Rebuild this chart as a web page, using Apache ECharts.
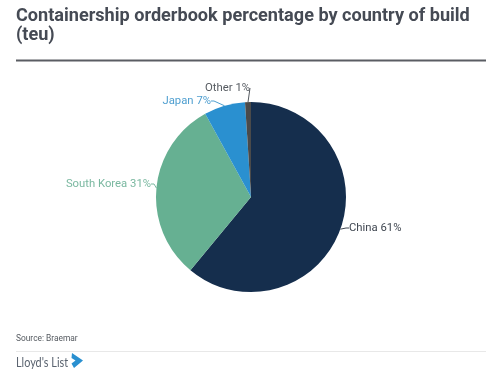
<!DOCTYPE html>
<html><head><meta charset="utf-8">
<style>html,body{margin:0;padding:0;background:#fff}#c{width:500px;height:381px}</style>
<script src="https://cdn.jsdelivr.net/npm/echarts@6/dist/echarts.min.js"></script>
</head><body><div id="c"></div>
<script>
const categories = ['China', 'South Korea', 'Japan', 'Other'];
const values = [61, 31, 7, 1];
const colors = ['#152e4d', '#66b092', '#2a90d0', '#4a4a4a'];
const labelColors = ['#3f4650', '#7ab8a0', '#4f9fd0', '#555a60'];
const titleLines = 'Containership orderbook percentage by country of build\n(teu)';
const sourceText = 'Source: Braemar';
const brandText = "Lloyd's List";

const labelAnchors = {
  'China': {x: 349, y: 228, align: 'left'},
  'South Korea': {x: 151, y: 184, align: 'right'},
  'Japan': {x: 211, y: 101, align: 'right'},
  'Other': {x: 250, y: 88, align: 'right'}
};

const chart = echarts.init(document.getElementById('c'), null, {renderer: 'canvas'});
chart.setOption({
  animation: false,
  backgroundColor: '#fff',
  title: {
    text: titleLines, left: 16, top: 7, padding: 0,
    textStyle: {fontFamily: 'Roboto', fontWeight: 'bold', fontSize: 18.1, color: '#454a54', lineHeight: 19}
  },
  graphic: [
    {type: 'rect', shape: {x: 16, y: 59.5, width: 470, height: 2}, style: {fill: '#5a5d63'}},
    {type: 'text', style: {x: 16, y: 335, text: sourceText, font: '8.4px Roboto', fill: '#555a60'}},
    {type: 'rect', shape: {x: 16, y: 351, width: 470, height: 1}, style: {fill: '#e8e8e8'}},
    {type: 'text', x: 16, y: 356, scaleX: 0.87, style: {x: 0, y: 0, text: brandText, font: '12.5px Lato', fill: '#5b6470'}},
    {type: 'polygon', shape: {points: [[72, 353], [83, 360.5], [74, 368], [71.5, 363.5], [75.5, 360.5], [71.5, 358]]}, style: {fill: '#2a90d0'}}
  ],
  series: [{
    type: 'pie',
    center: [251, 197],
    radius: [0, 95],
    startAngle: 90,
    clockwise: true,
    data: categories.map((n, i) => ({
      name: n, value: values[i],
      itemStyle: {color: colors[i]},
      label: {color: labelColors[i]},
      labelLine: {lineStyle: {color: labelColors[i]}}
    })),
    label: {
      show: true,
      formatter: p => p.name + ' ' + p.value + '%',
      fontFamily: 'Roboto', fontSize: 11.3, distanceToLabelLine: 0
    },
    labelLine: {show: true, length: 4, length2: 3, lineStyle: {width: 1}},
    labelLayout: p => {
      const a = labelAnchors[categories[p.dataIndex]];
      return {x: a.x, y: a.y, align: a.align, verticalAlign: 'middle', moveOverlap: false};
    },
    emphasis: {disabled: true}
  }]
});
</script></body></html>
